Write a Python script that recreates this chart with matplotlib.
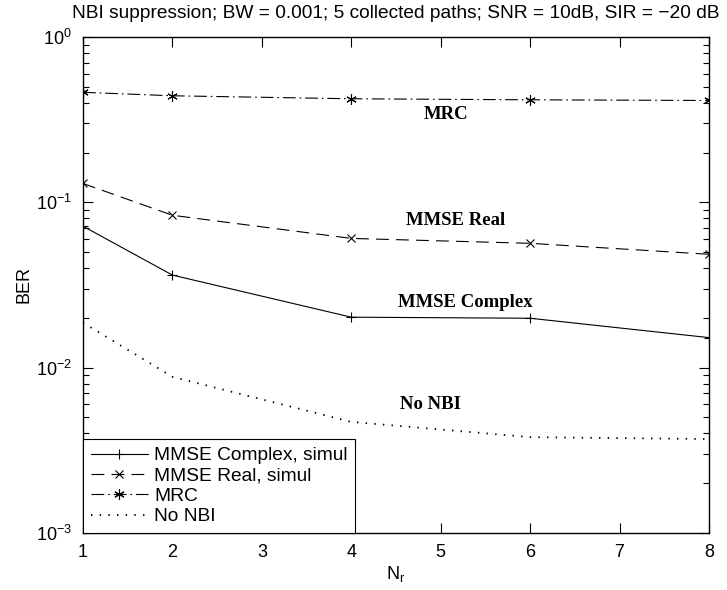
import numpy as np
import matplotlib
matplotlib.use('Agg')
import matplotlib.pyplot as plt
from matplotlib.ticker import LogLocator, NullFormatter

# data
nr = [1, 2, 4, 6, 8]
ber_mmse_complex = [0.0717, 0.0363, 0.0202, 0.0199, 0.0152]
ber_mmse_real = [0.130, 0.0835, 0.0605, 0.0565, 0.0485]
ber_mrc = [0.463, 0.441, 0.423, 0.417, 0.413]
ber_no_nbi = [0.0187, 0.0088, 0.0047, 0.0038, 0.0037]

legend_names = ['MMSE Complex, simul', 'MMSE Real, simul', 'MRC', 'No NBI']
curve_labels = ['MMSE Complex', 'MMSE Real', 'MRC', 'No NBI']
label_x = [5.28, 5.17, 5.06, 4.89]
label_y = [0.0248, 0.0776, 0.338, 0.0060]

TITLE = 'NBI suppression; BW = 0.001; 5 collected paths; SNR = 10dB, SIR = \u221220 dB'

plt.rcParams['font.family'] = ['Liberation Sans', 'DejaVu Sans']
plt.rcParams['mathtext.fontset'] = 'custom'
plt.rcParams['mathtext.rm'] = 'Liberation Sans'
plt.rcParams['mathtext.it'] = 'Liberation Sans'

fig = plt.figure(figsize=(7.27, 5.90), dpi=100)
ax = fig.add_axes([0.1142, 0.0966, 0.8610, 0.8407])

asterisk = (6, 2, 0)

ax.plot(nr, ber_mmse_complex, color='black', lw=0.8, ls='-', marker='+',
        ms=7.5, mew=0.8, label=legend_names[0])
ax.plot(nr, ber_mmse_real, color='black', lw=0.8, ls=(0, (11.5, 6.5)), marker='x',
        ms=6, mew=0.8, label=legend_names[1])
ax.plot(nr, ber_mrc, color='black', lw=0.8, ls=(0, (11.5, 3.5, 1.5, 3.5)),
        marker=asterisk, ms=7.5, mew=0.8, label=legend_names[2])
ax.plot(nr, ber_no_nbi, color='black', lw=1.3, ls=(0, (0.8, 4)),
        label=legend_names[3])

ax.set_yscale('log')
ax.set_xlim(1, 8)
ax.set_ylim(1e-3, 1)
ax.set_xticks(range(1, 9))
ax.yaxis.set_major_locator(LogLocator(base=10, numticks=10))
ax.yaxis.set_minor_locator(LogLocator(base=10, subs=np.arange(2, 10), numticks=10))
ax.yaxis.set_minor_formatter(NullFormatter())

ax.tick_params(which='both', direction='in', top=True, right=True,
               labelsize=13, width=0.8)
ax.tick_params(which='major', length=7, pad=8)
ax.tick_params(which='minor', length=4)
for s in ax.spines.values():
    s.set_linewidth(1.0)

ax.set_xlabel('N$_\\mathrm{r}$', fontsize=13, labelpad=2)
ax.set_ylabel('BER', fontsize=13)
ax.yaxis.set_label_coords(-0.081, 0.5)
ax.set_title(TITLE, fontsize=13.8, pad=14)

for txt, x, y in zip(curve_labels, label_x, label_y):
    ax.text(x, y, txt, ha='center', va='center', fontsize=13.5,
            fontweight='bold', family='Liberation Serif')

leg = ax.legend(loc='lower left', bbox_to_anchor=(0, 0), borderaxespad=0,
                fontsize=13.8, handlelength=3.0, handletextpad=0.3,
                labelspacing=0.15, borderpad=0.4, fancybox=False,
                edgecolor='black', framealpha=1)
leg.get_frame().set_linewidth(0.8)

fig.savefig('out.png', dpi=100)
